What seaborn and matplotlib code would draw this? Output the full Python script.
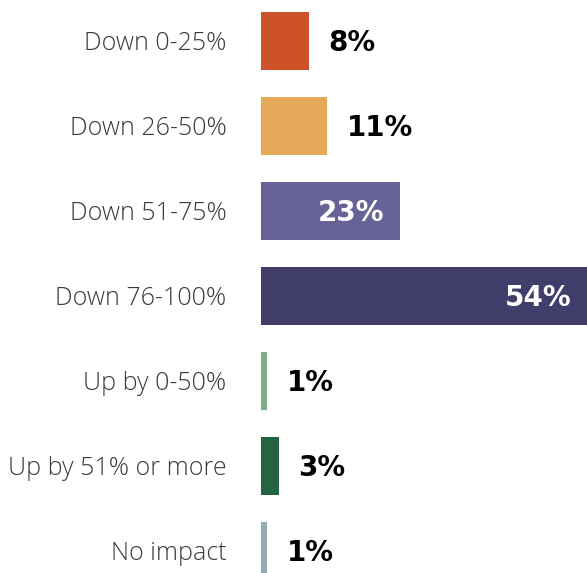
import matplotlib
matplotlib.use("Agg")
import matplotlib.pyplot as plt
import seaborn as sns
import pandas as pd

categories = ["Down 0-25%", "Down 26-50%", "Down 51-75%", "Down 76-100%",
              "Up by 0-50%", "Up by 51% or more", "No impact"]
values = [8, 11, 23, 54, 1, 3, 1]
value_labels = ["8%", "11%", "23%", "54%", "1%", "3%", "1%"]
colors = ["#CD5229", "#E5AA57", "#676399", "#413E6C", "#7DAB86", "#256341", "#93AEAE"]
inside = [False, False, True, True, False, False, False]

sns.set_style("white")
plt.rcParams["font.family"] = ["Open Sans", "DejaVu Sans"]

df = pd.DataFrame({"category": categories, "value": values})

fig = plt.figure(figsize=(5.87, 5.73), dpi=100)
ax = fig.add_axes([261 / 587, 0, 326 / 587, 1])
sns.barplot(data=df, x="value", y="category", hue="category",
            palette=colors, legend=False, width=0.682, ax=ax,
            orient="h", saturation=1, linewidth=0)

ax.set_xlim(0, 54)
ax.set_ylim(6.259, -0.482)
ax.set_xlabel("")
ax.set_ylabel("")
ax.set_xticks([])
for s in ax.spines.values():
    s.set_visible(False)
ax.tick_params(axis="y", length=0, pad=25)
for lab in ax.get_yticklabels():
    lab.set_fontsize(18)
    lab.set_fontweight("light")
    lab.set_color("#3a3a3a")

for i, (v, lab, ins) in enumerate(zip(values, value_labels, inside)):
    if ins:
        ax.annotate(lab, (v, i), xytext=(-11, -1.5), textcoords="offset points",
                    ha="right", va="center", fontsize=20, fontweight="bold",
                    color="white", family="DejaVu Sans")
    else:
        ax.annotate(lab, (v, i), xytext=(14, -1.5), textcoords="offset points",
                    ha="left", va="center", fontsize=20, fontweight="bold",
                    color="black", family="DejaVu Sans")

fig.savefig("out.png", dpi=100)
